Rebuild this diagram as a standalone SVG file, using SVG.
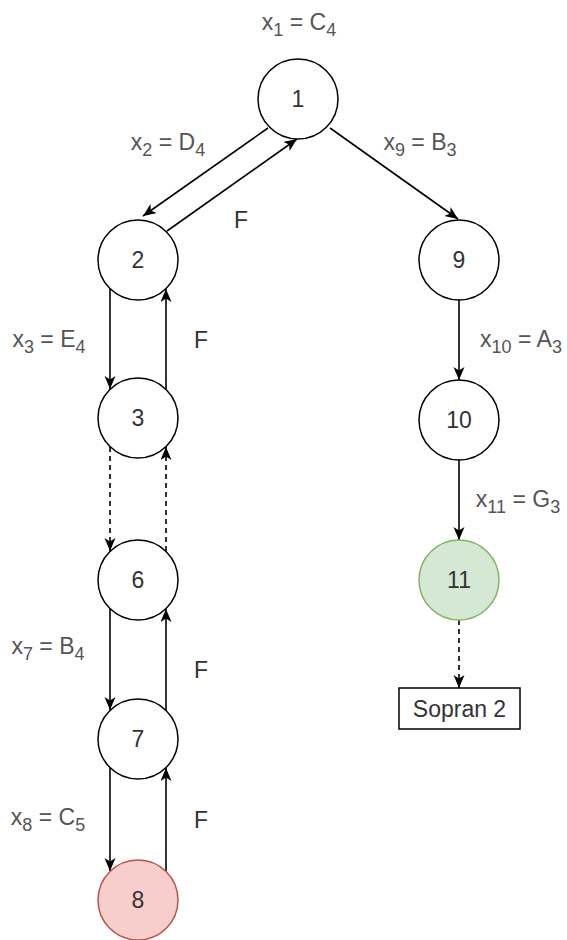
<svg xmlns="http://www.w3.org/2000/svg" width="567" height="940" viewBox="0 0 567 940">
<defs>
<style>
.node circle{fill:#fff;stroke:#000;stroke-width:1.5}
.node text{font-family:"Liberation Sans",Arial,sans-serif;font-size:23px;fill:#333;text-anchor:middle}
.edge{fill:none;stroke:#000;stroke-width:1.6}
.dash{stroke-dasharray:5 4}
.lbl{font-family:"Liberation Sans",Arial,sans-serif;font-size:23px;fill:#555;text-anchor:middle}
.f{font-family:"Liberation Sans",Arial,sans-serif;font-size:23px;fill:#333;text-anchor:middle}
.sub{font-size:18px}
</style>
<marker id="arr" markerUnits="userSpaceOnUse" markerWidth="15" markerHeight="13" refX="13" refY="5.5" orient="auto">
<path d="M0,0 L13,5.5 L0,11 L3.5,5.5 z" fill="#000"/>
</marker>
</defs>
<rect width="567" height="940" fill="#fff"/>
<g id="connectors">
<line class="edge" x1="268" y1="128" x2="143" y2="216" marker-end="url(#arr)"/>
<line class="edge" x1="167" y1="231" x2="297" y2="139" marker-end="url(#arr)"/>
<line class="edge" x1="330" y1="128" x2="458" y2="219" marker-end="url(#arr)"/>
<line class="edge" x1="110" y1="289" x2="110" y2="389" marker-end="url(#arr)"/>
<line class="edge" x1="166" y1="389" x2="166" y2="289" marker-end="url(#arr)"/>
<line class="edge dash" x1="110" y1="447" x2="110" y2="551" marker-end="url(#arr)"/>
<line class="edge dash" x1="166" y1="551" x2="166" y2="447" marker-end="url(#arr)"/>
<line class="edge" x1="110" y1="609" x2="110" y2="710" marker-end="url(#arr)"/>
<line class="edge" x1="166" y1="710" x2="166" y2="609" marker-end="url(#arr)"/>
<line class="edge" x1="110" y1="768" x2="110" y2="871" marker-end="url(#arr)"/>
<line class="edge" x1="166" y1="871" x2="166" y2="768" marker-end="url(#arr)"/>
<line class="edge" x1="459" y1="300" x2="459" y2="380" marker-end="url(#arr)"/>
<line class="edge" x1="459" y1="460" x2="459" y2="540" marker-end="url(#arr)"/>
<line class="edge dash" x1="459" y1="620" x2="459" y2="688" marker-end="url(#arr)"/>
</g>
<g id="labels">
<text class="lbl" x="299" y="30">x<tspan class="sub" dy="6">1</tspan><tspan dy="-6"> = C</tspan><tspan class="sub" dy="6">4</tspan></text>
<text class="lbl" x="168" y="150">x<tspan class="sub" dy="6">2</tspan><tspan dy="-6"> = D</tspan><tspan class="sub" dy="6">4</tspan></text>
<text class="lbl" x="420" y="150">x<tspan class="sub" dy="6">9</tspan><tspan dy="-6"> = B</tspan><tspan class="sub" dy="6">3</tspan></text>
<text class="f" x="241" y="228">F</text>
<text class="lbl" x="49" y="347">x<tspan class="sub" dy="6">3</tspan><tspan dy="-6"> = E</tspan><tspan class="sub" dy="6">4</tspan></text>
<text class="f" x="201" y="348">F</text>
<text class="lbl" x="521" y="347">x<tspan class="sub" dy="6">10</tspan><tspan dy="-6"> = A</tspan><tspan class="sub" dy="6">3</tspan></text>
<text class="lbl" x="518" y="507">x<tspan class="sub" dy="6">11</tspan><tspan dy="-6"> = G</tspan><tspan class="sub" dy="6">3</tspan></text>
<text class="lbl" x="48" y="654">x<tspan class="sub" dy="6">7</tspan><tspan dy="-6"> = B</tspan><tspan class="sub" dy="6">4</tspan></text>
<text class="f" x="201" y="678">F</text>
<text class="lbl" x="48" y="825">x<tspan class="sub" dy="6">8</tspan><tspan dy="-6"> = C</tspan><tspan class="sub" dy="6">5</tspan></text>
<text class="f" x="201" y="828">F</text>
</g>
<g id="n1" class="node"><circle cx="298" cy="99" r="40"/><text x="298" y="107">1</text></g>
<g id="n2" class="node"><circle cx="138" cy="260" r="40"/><text x="138" y="268">2</text></g>
<g id="n3" class="node"><circle cx="138" cy="418" r="40"/><text x="138" y="426">3</text></g>
<g id="n6" class="node"><circle cx="138" cy="580" r="40"/><text x="138" y="588">6</text></g>
<g id="n7" class="node"><circle cx="138" cy="739" r="40"/><text x="138" y="747">7</text></g>
<g id="n8" class="node"><circle cx="138" cy="900" r="40" style="fill:#f8cecc;stroke:#b85450"/><text x="138" y="908">8</text></g>
<g id="n9" class="node"><circle cx="459" cy="260" r="40"/><text x="459" y="268">9</text></g>
<g id="n10" class="node"><circle cx="459" cy="420" r="40"/><text x="459" y="428">10</text></g>
<g id="n11" class="node"><circle cx="459" cy="580" r="40" style="fill:#d5e8d4;stroke:#82b366"/><text x="459" y="588">11</text></g>
<g id="sopran2" class="node"><rect x="399" y="688" width="121" height="41" fill="#fff" stroke="#000" stroke-width="1.5"/><text x="459.5" y="717">Sopran 2</text></g>
</svg>
